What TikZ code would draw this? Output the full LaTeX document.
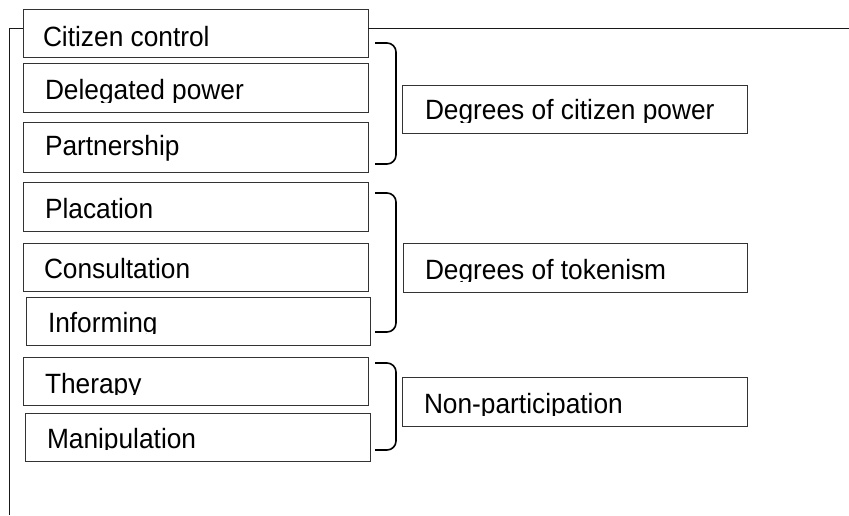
\documentclass[tikz,border=0pt]{standalone}
\usepackage{fontspec}
\setmainfont{Liberation Sans}
\usetikzlibrary{calc}

\tikzset{
  rungbox/.style={draw=black!80, line width=1pt, rectangle, inner sep=0pt, outer sep=0pt, fill=white},
  rungtext/.style={inner sep=0pt, outer sep=0pt, text=black, font=\fontsize{26.3}{30}\selectfont},
  bracket/.style={draw=black, line width=1.6pt, rounded corners=9pt},
  frame/.style={draw=black!90, line width=1pt},
}

% #1 name, #2 left x, #3 top y, #4 width, #5 height,
% #6 text x, #7 baseline y, #8 y below which the text is cut off, #9 text
\newcommand\rung[9]{%
  \node[rungbox, minimum width=#4pt, minimum height=#5pt, anchor=north west] (#1) at (#2,#3) {};
  \begin{scope}
    \clip (#2,#3) rectangle (#2+#4,#8);
    \node[rungtext, anchor=base west] (#1-t) at (#6,#7) {\scalebox{1}[1.06]{#9}};
  \end{scope}}

\begin{document}
\begin{tikzpicture}[x=1pt,y=-1pt]
  \useasboundingbox (0,0) rectangle (849,515);

  % outer frame (only its top and left sides are visible)
  \coordinate (frameTL) at (9.5,28);
  \coordinate (frameTR) at (849,28);
  \coordinate (frameBL) at (9.5,515);

  % rungs of the ladder
  \rung{cc}{23}{9}{345}{48}{43}{46}{57}{Citizen control}
  \rung{dp}{23}{63}{345}{49}{45}{99}{102}{Delegated power}
  \rung{ps}{23}{122}{345}{50}{45}{155}{172}{Partnership}
  \rung{pl}{23}{182}{345}{49}{45}{218}{231}{Placation}
  \rung{co}{23}{243}{345}{48}{44}{278}{291}{Consultation}
  \rung{in}{26}{297}{344}{48}{48}{332}{333.5}{Informing}
  \rung{th}{23}{357}{345}{48}{45}{393}{394}{Therapy}
  \rung{ma}{25}{413}{345}{48}{47}{448}{449.5}{Manipulation}

  % group labels
  \rung{cp}{402}{85}{345}{48}{425}{119}{122}{Degrees of citizen power}
  \rung{tk}{403}{243}{344}{49}{425}{279}{281}{Degrees of tokenism}
  \rung{np}{402}{377}{345}{49}{424}{413}{415}{Non-participation}

  % frame lines meeting the top rung
  \draw[frame] (frameTL -| cc.west) -- (frameTL) -- (frameBL);
  \draw[frame] (frameTL -| cc.east) -- (frameTR);

  % brackets grouping the rungs
  \draw[bracket] (375,43) -- (396,43) -- (396,164) -- (375,164);
  \draw[bracket] (375,193) -- (396,193) -- (396,332) -- (375,332);
  \draw[bracket] (375,363) -- (396,363) -- (396,450) -- (375,450);
\end{tikzpicture}
\end{document}
